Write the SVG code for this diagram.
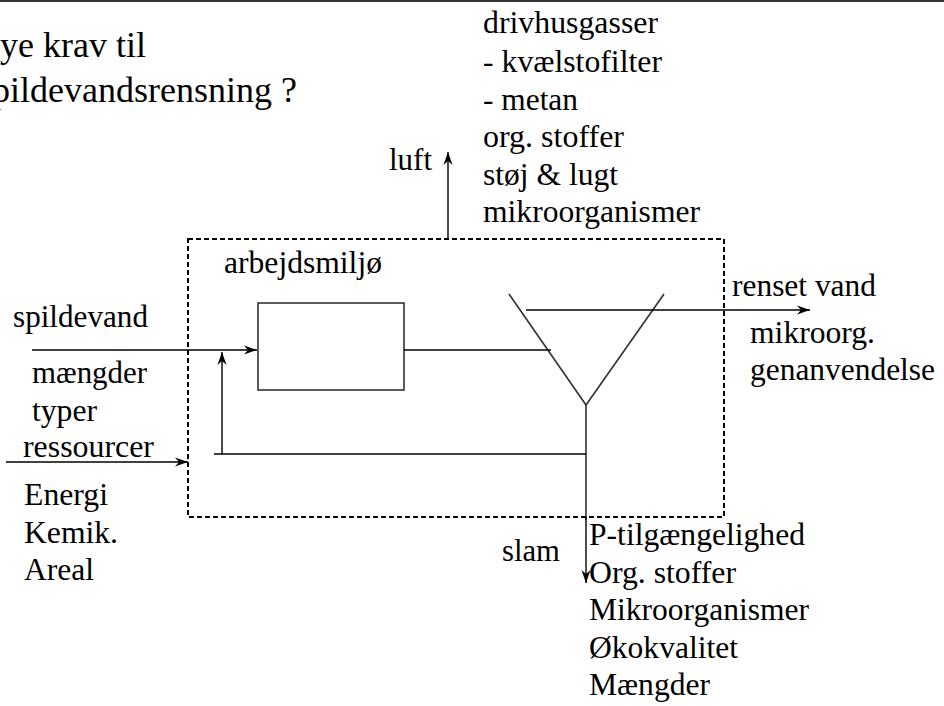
<svg xmlns="http://www.w3.org/2000/svg" width="944" height="706" viewBox="0 0 944 706">
<style>
text{font-size:31px;fill:#000}
.title{font-size:36px}
.ln{fill:none;stroke:#000;stroke-width:1.4}
.arr{marker-end:url(#ah)}
.dash{fill:none;stroke:#000;stroke-width:2;stroke-dasharray:5,3}
.shape{fill:none;stroke:#333;stroke-width:1.6}
</style>
<defs>
<marker id="ah" markerUnits="userSpaceOnUse" markerWidth="16" markerHeight="12" viewBox="-14 -6 16 12" refX="0" refY="0" orient="auto">
<path d="M0,0 L-13,-4.5 L-9,0 L-13,4.5 Z" fill="#000"/>
</marker>
</defs>
<rect x="0" y="0" width="944" height="2" fill="#333"/>
<g font-family="Liberation Serif, Times New Roman, DejaVu Serif, serif">
<g id="title">
<text class="title" x="-18" y="57" textLength="164" lengthAdjust="spacingAndGlyphs">nye krav til</text>
<text class="title" x="-22" y="102" textLength="319" lengthAdjust="spacingAndGlyphs">spildevandsrensning ?</text>
</g>
<g id="plant">
<rect class="dash" x="188" y="239" width="536" height="278"/>
<text x="224" y="273" textLength="158" lengthAdjust="spacingAndGlyphs">arbejdsmiljø</text>
</g>
<g id="tank">
<rect class="shape" x="258" y="303" width="146" height="87"/>
</g>
<g id="clarifier">
<polyline class="shape" points="509,294 586,405 664,294"/>
</g>
<g id="connectors">
<line class="ln arr" x1="32" y1="350" x2="257" y2="350"/>
<line class="ln" x1="404" y1="350" x2="551" y2="350"/>
<line class="ln arr" x1="526" y1="310" x2="810" y2="310"/>
<line class="shape" x1="586" y1="405" x2="586" y2="520"/>
<line class="ln arr" x1="586" y1="517" x2="586" y2="583"/>
<line class="ln" x1="214" y1="454" x2="586" y2="454"/>
<line class="ln arr" x1="222" y1="454" x2="222" y2="352"/>
<line class="ln arr" x1="6" y1="462" x2="188" y2="462"/>
<line class="ln arr" x1="448" y1="239" x2="448" y2="152"/>
</g>
<g id="air">
<text x="389" y="170" textLength="43" lengthAdjust="spacingAndGlyphs">luft</text>
<text x="483" y="33" textLength="175" lengthAdjust="spacingAndGlyphs">drivhusgasser</text>
<text x="483" y="72" textLength="179" lengthAdjust="spacingAndGlyphs">- kvælstofilter</text>
<text x="483" y="110" textLength="95" lengthAdjust="spacingAndGlyphs">- metan</text>
<text x="483" y="147" textLength="141" lengthAdjust="spacingAndGlyphs">org. stoffer</text>
<text x="483" y="185" textLength="135" lengthAdjust="spacingAndGlyphs">støj &amp; lugt</text>
<text x="483" y="222" textLength="217" lengthAdjust="spacingAndGlyphs">mikroorganismer</text>
</g>
<g id="inflow">
<text x="13" y="327" textLength="135" lengthAdjust="spacingAndGlyphs">spildevand</text>
<text x="32" y="383" textLength="115" lengthAdjust="spacingAndGlyphs">mængder</text>
<text x="32" y="421" textLength="65" lengthAdjust="spacingAndGlyphs">typer</text>
<text x="23" y="457" textLength="131" lengthAdjust="spacingAndGlyphs">ressourcer</text>
<text x="24" y="505" textLength="84" lengthAdjust="spacingAndGlyphs">Energi</text>
<text x="24" y="543" textLength="94" lengthAdjust="spacingAndGlyphs">Kemik.</text>
<text x="24" y="580" textLength="70" lengthAdjust="spacingAndGlyphs">Areal</text>
</g>
<g id="effluent">
<text x="732" y="296" textLength="144" lengthAdjust="spacingAndGlyphs">renset vand</text>
<text x="750" y="343" textLength="125" lengthAdjust="spacingAndGlyphs">mikroorg.</text>
<text x="750" y="380" textLength="185" lengthAdjust="spacingAndGlyphs">genanvendelse</text>
</g>
<g id="sludge">
<text x="502" y="561" textLength="58" lengthAdjust="spacingAndGlyphs">slam</text>
<text x="589" y="545" textLength="216" lengthAdjust="spacingAndGlyphs">P-tilgængelighed</text>
<text x="589" y="583" textLength="147" lengthAdjust="spacingAndGlyphs">Org. stoffer</text>
<text x="589" y="620" textLength="220" lengthAdjust="spacingAndGlyphs">Mikroorganismer</text>
<text x="589" y="658" textLength="149" lengthAdjust="spacingAndGlyphs">Økokvalitet</text>
<text x="589" y="695" textLength="121" lengthAdjust="spacingAndGlyphs">Mængder</text>
</g>
</g>
</svg>
